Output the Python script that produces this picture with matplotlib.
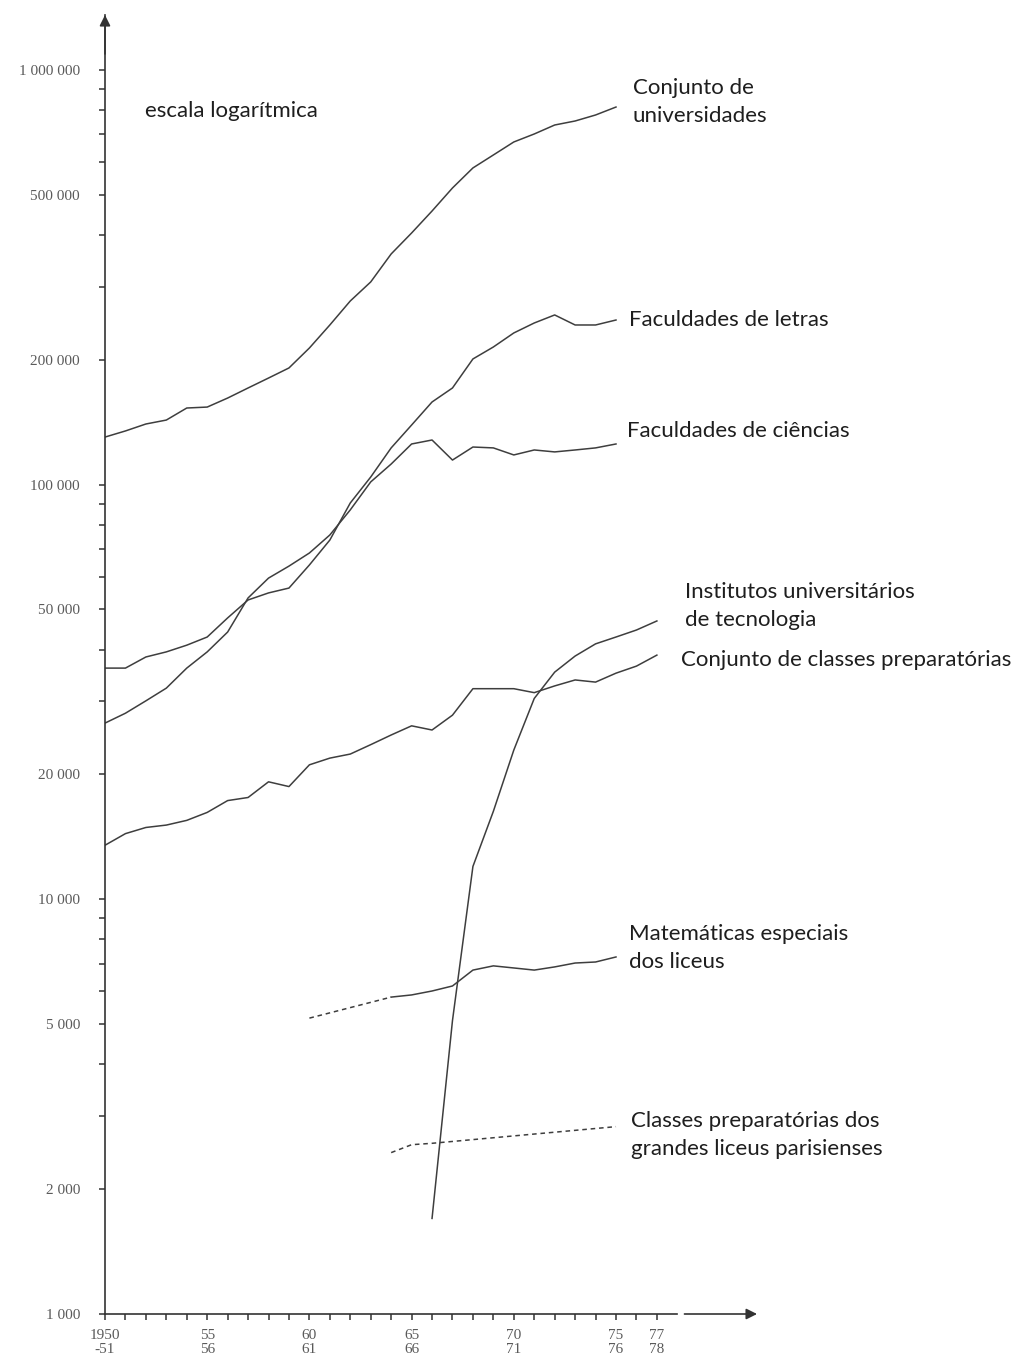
import matplotlib
matplotlib.use("Agg")
import matplotlib.pyplot as plt
from matplotlib.ticker import FixedLocator, NullFormatter

# ---------------- data ----------------
years_main = list(range(1950, 1976))
universidades = [130200, 134700, 140000, 143100, 153000, 153800, 161700, 171000,
                 180700, 191100, 213500, 242600, 277200, 308100, 359900, 404300,
                 456800, 519100, 580200, 623500, 670200, 700600, 736400, 753000,
                 778500, 813700]
letras = [36100, 36100, 38400, 39500, 41000, 42900, 47700, 52700, 54800, 56300,
          64000, 73500, 90300, 104300, 122600, 139200, 158200, 171000, 200900,
          214700, 232100, 245300, 256500, 242600, 242600, 249400]
ciencias = [26600, 28100, 30100, 32300, 36100, 39500, 44100, 53300, 59500, 63600,
            68400, 75600, 86900, 101500, 112100, 125300, 128100, 114600, 123200,
            122600, 117900, 121200, 119900, 121200, 122600, 125300]

years_prep = list(range(1950, 1978))
preparatorias = [13500, 14400, 14900, 15100, 15500, 16200, 17300, 17600, 19200,
                 18700, 21100, 21900, 22400, 23600, 24900, 26200, 25600, 27800,
                 32200, 32200, 32200, 31500, 32700, 33800, 33400, 35100, 36500,
                 38800]

years_iut = list(range(1966, 1978))
iut = [1700, 5100, 12000, 16300, 22900, 30500, 35300, 38600, 41300, 42900,
       44600, 46900]

years_mat_dashed = [1960, 1964]
mat_dashed = [5170, 5810]
years_mat = list(range(1964, 1976))
mat = [5810, 5880, 6010, 6180, 6750, 6910, 6830, 6750, 6870, 7020, 7060, 7260]

years_paris = [1964, 1965, 1966, 1975]
paris = [2450, 2560, 2580, 2830]

ytick_values = [1000, 2000, 5000, 10000, 20000, 50000, 100000, 200000, 500000, 1000000]
ytick_labels = ["1 000", "2 000", "5 000", "10 000", "20 000", "50 000",
                "100 000", "200 000", "500 000", "1 000 000"]
xtick_years = [1950, 1955, 1960, 1965, 1970, 1975, 1977]
xtick_labels = ["1950\n-51", "55\n56", "60\n61", "65\n66", "70\n71", "75\n76", "77\n78"]

labels = [
    ("escala logarítmica", 145, 111),
    ("Conjunto de\nuniversidades", 633, 102),
    ("Faculdades de letras", 629, 320),
    ("Faculdades de ciências", 627, 431),
    ("Institutos universitários\nde tecnologia", 685, 606),
    ("Conjunto de classes preparatórias", 681, 660),
    ("Matemáticas especiais\ndos liceus", 629, 948),
    ("Classes preparatórias dos\ngrandes liceus parisienses", 631, 1135),
]

# ---------------- figure ----------------
W, H = 1016, 1358
fig = plt.figure(figsize=(W / 100, H / 100), dpi=100)
fig.patch.set_facecolor("white")
ax = fig.add_axes([105 / W, 44 / H, 665 / W, 1299 / H])
ax.set_yscale("log")
ax.set_xlim(1950, 1950 + 665 / 20.44)
ax.set_ylim(1000, 10 ** (3 + 1299 / 414.7))

line_color = "#3e3e3e"
lw = 1.1
ax.plot(years_main, universidades, color=line_color, lw=lw)
ax.plot(years_main, letras, color=line_color, lw=lw)
ax.plot(years_main, ciencias, color=line_color, lw=lw)
ax.plot(years_prep, preparatorias, color=line_color, lw=lw)
ax.plot(years_iut, iut, color=line_color, lw=lw)
ax.plot(years_mat_dashed, mat_dashed, color=line_color, lw=lw, ls=(0, (3, 2.5)))
ax.plot(years_mat, mat, color=line_color, lw=lw)
ax.plot(years_paris, paris, color=line_color, lw=lw, ls=(0, (3, 2.5)))

# spines / axes arrows
axis_color = "#333333"
for s in ["top", "right"]:
    ax.spines[s].set_visible(False)
ax.spines["left"].set_color(axis_color)
ax.spines["left"].set_linewidth(1.2)
ax.spines["bottom"].set_color(axis_color)
ax.spines["bottom"].set_linewidth(1.2)
ax.spines["bottom"].set_bounds(1950, 1978.0)

arrow_kw = dict(arrowstyle="-|>", mutation_scale=16, lw=1.2, color=axis_color,
                shrinkA=0, shrinkB=0)
ax.annotate("", xy=(0, 1.0), xytext=(0, 0.97), xycoords="axes fraction",
            textcoords="axes fraction", arrowprops=arrow_kw, annotation_clip=False)
ax.annotate("", xy=(1981.9, 0), xytext=(1978.35, 0),
            xycoords=("data", "axes fraction"), textcoords=("data", "axes fraction"),
            arrowprops=arrow_kw, annotation_clip=False)

# y ticks
ax.yaxis.set_major_locator(FixedLocator(ytick_values))
ax.set_yticklabels(ytick_labels)
minor_y = [m * 10 ** e for e in range(3, 6) for m in (3, 4, 6, 7, 8, 9)]
ax.yaxis.set_minor_locator(FixedLocator(minor_y))
ax.yaxis.set_minor_formatter(NullFormatter())
ax.tick_params(axis="y", which="both", direction="out", length=4, width=1.1,
               color=axis_color, pad=14)
# x ticks
ax.xaxis.set_major_locator(FixedLocator(xtick_years))
ax.set_xticklabels(xtick_labels)
minor_x = [y for y in range(1950, 1978) if y not in xtick_years]
ax.xaxis.set_minor_locator(FixedLocator(minor_x))
ax.tick_params(axis="x", which="both", direction="out", length=4, width=1.1,
               color=axis_color, pad=7)

for lab in ax.get_yticklabels():
    lab.set_fontfamily("Liberation Serif")
    lab.set_fontsize(11)
    lab.set_color("#5a5a5a")
for lab in ax.get_xticklabels():
    lab.set_fontfamily("Liberation Serif")
    lab.set_fontsize(11)
    lab.set_color("#5a5a5a")
    lab.set_linespacing(1.05)

# series labels
for text, px, py in labels:
    fig.text(px / W, 1 - py / H, text, ha="left", va="center", fontsize=16,
             family=["Lato", "DejaVu Sans"], color="#1e1e1e", linespacing=1.5)

fig.savefig("out.png", dpi=100, facecolor="white")
